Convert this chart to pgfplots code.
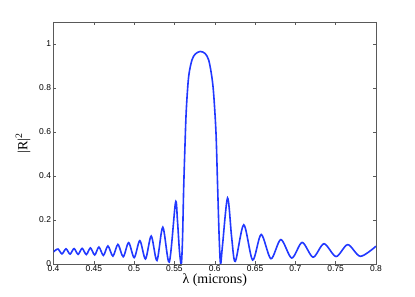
\documentclass[border=0pt]{standalone}
\usepackage{pgfplots}
\pgfplotsset{compat=1.18}
\usepackage{fontspec}
\setmainfont{Liberation Serif}
\newfontfamily\helv{Liberation Sans}
\definecolor{mblue}{rgb}{0.13,0.22,1}
\definecolor{frame}{gray}{0.35}
\begin{document}
\begin{tikzpicture}
\path[use as bounding box] (0,0) rectangle (415bp,297bp);
\begin{axis}[
  at={(53.5bp,33bp)}, anchor=south west,
  scale only axis, width=322.5bp, height=242bp,
  xmin=0.4, xmax=0.8, ymin=0, ymax=1.1,
  xtick={0.4,0.45,0.5,0.55,0.6,0.65,0.7,0.75,0.8},
  ytick={0,0.2,0.4,0.6,0.8,1},
  xticklabels={0.4,0.45,0.5,0.55,0.6,0.65,0.7,0.75,0.8},
  yticklabels={0,0.2,0.4,0.6,0.8,1},
  tick align=inside, major tick length=3bp,
  tick style={frame, line width=0.5bp},
  axis line style={frame, line width=0.7bp},
  ticklabel style={font=\helv\fontsize{8.5}{9}\selectfont, text=black},
  xticklabel style={yshift=1.5bp},
  yticklabel style={xshift=1bp},
  xlabel={λ (microns)},
  ylabel={|R|\textsuperscript{2}},
  label style={font=\fontsize{14}{15}\selectfont},
  xlabel style={yshift=5bp},
  ylabel style={yshift=2bp},
]
\addplot[mblue, line width=1.6bp, smooth, tension=0.5] coordinates {
(0.4000,0.055)
(0.4055,0.068)
(0.4105,0.046)
(0.4155,0.069)
(0.4205,0.045)
(0.4255,0.070)
(0.4305,0.044)
(0.4355,0.071)
(0.4407,0.043)
(0.4458,0.073)
(0.4511,0.041)
(0.4563,0.077)
(0.4619,0.039)
(0.4675,0.082)
(0.4737,0.036)
(0.4799,0.089)
(0.4865,0.033)
(0.4932,0.097)
(0.5001,0.029)
(0.5071,0.106)
(0.5141,0.023)
(0.5212,0.127)
(0.5283,0.016)
(0.5356,0.167)
(0.5436,0.009)
(0.5513,0.279)
(0.5537,0.20)
(0.5562,0.06)
(0.5585,0.0)
(0.5600,0.11)
(0.5614,0.336)
(0.5630,0.53)
(0.5647,0.70)
(0.5676,0.851)
(0.5717,0.927)
(0.5760,0.955)
(0.5820,0.966)
(0.5880,0.957)
(0.5925,0.927)
(0.5960,0.86)
(0.5985,0.78)
(0.6015,0.60)
(0.6035,0.36)
(0.6055,0.12)
(0.6072,0.0)
(0.6095,0.08)
(0.6159,0.300)
(0.6210,0.12)
(0.6255,0.012)
(0.6360,0.178)
(0.6470,0.018)
(0.6576,0.134)
(0.6697,0.024)
(0.6820,0.111)
(0.6955,0.027)
(0.7084,0.098)
(0.7220,0.031)
(0.7355,0.092)
(0.7505,0.034)
(0.7650,0.088)
(0.7806,0.035)
(0.8000,0.081)
};
\end{axis}
\end{tikzpicture}
\end{document}
